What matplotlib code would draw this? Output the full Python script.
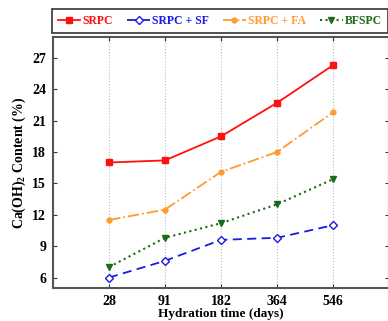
import matplotlib.pyplot as plt
import numpy as np

days = ['28', '91', '182', '364', '546']
srpc = [17.0, 17.2, 19.5, 22.7, 26.3]
srpc_sf = [6.0, 7.6, 9.6, 9.8, 11.0]
srpc_fa = [11.5, 12.5, 16.1, 18.0, 21.8]
bfspc = [7.0, 9.8, 11.2, 13.0, 15.4]
yticks = [6, 9, 12, 15, 18, 21, 24, 27]

plt.rcParams['font.family'] = 'Liberation Serif'
plt.rcParams['font.weight'] = 'bold'
plt.rcParams['mathtext.fontset'] = 'custom'
plt.rcParams['mathtext.bf'] = 'Liberation Serif:bold'

fig = plt.figure(figsize=(3.88, 3.21), dpi=100)
ax = fig.add_axes([53 / 388, 1 - 288 / 321, 336 / 388, 251 / 321])

x = np.arange(1, 6)
ax.plot(x, srpc, color='#ff1010', ls='-', lw=1.3, marker='s', ms=4.5, label='SRPC')
ax.plot(x, srpc_sf, color='#1a1ae6', ls=(0, (5, 3)), lw=1.3, marker='D', ms=4.5,
        mfc='white', mew=1.0, label='SRPC + SF')
ax.plot(x, srpc_fa, color='#ff9a30', ls='-.', lw=1.3, marker='o', ms=3.5, label='SRPC + FA')
ax.plot(x, bfspc, color='#1c6a1c', ls=':', lw=1.5, marker='v', ms=5, label='BFSPC')

ax.set_xlim(0, 6)
ax.set_ylim(5, 29)
ax.set_xticks(x)
ax.set_xticklabels(days)
ax.set_yticks(yticks)
ax.tick_params(direction='in', top=True, right=True, labelsize=10, length=3, colors='#333333',
               labelcolor='black', pad=5)
ax.xaxis.grid(True, ls=':', color='#bbbbbb', lw=0.8)
for s in ax.spines.values():
    s.set_color('#555555')
    s.set_linewidth(1.5)

ax.set_xlabel('Hydration time (days)', fontsize=9.5, fontweight='bold', labelpad=0)
ax.set_ylabel('Ca(OH)$_\\mathbf{2}$ Content (%)', fontsize=10, fontweight='bold', labelpad=3)

leg = fig.legend(loc='lower left', bbox_to_anchor=(52 / 388, 1 - 33 / 321),
                 ncol=4, frameon=True, fancybox=False, fontsize=8.5, numpoints=1,
                 handlelength=1.9, handletextpad=0.2, columnspacing=1.2, borderaxespad=0,
                 borderpad=0.5)
leg.get_frame().set_edgecolor('black')
leg.get_frame().set_linewidth(1.2)
for t, l in zip(leg.get_texts(), leg.get_lines()):
    t.set_color(l.get_color())
    t.set_fontweight('bold')

fig.savefig('out.png', dpi=100)
